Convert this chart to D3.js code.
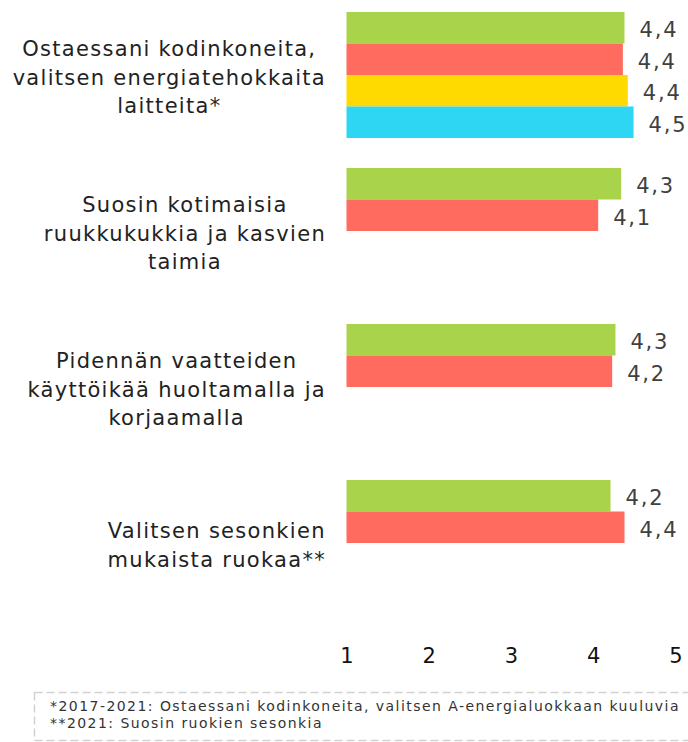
<!DOCTYPE html>
<html>
<head>
<meta charset="utf-8">
<script src="https://cdn.jsdelivr.net/npm/d3@7"></script>
<style>
  body { margin: 0; background: #fff; }
  text { font-family: "DejaVu Sans", sans-serif; }
</style>
</head>
<body>
<div id="chart"></div>
<script>
var svgWidth = 688;
var svgHeight = 742;

// categories (one label line per array entry)
var categories = [
    ["Ostaessani kodinkoneita,", "valitsen energiatehokkaita", "laitteita*"],
    ["Suosin kotimaisia", "ruukkukukkia ja kasvien", "taimia"],
    ["Pidennän vaatteiden", "käyttöikää huoltamalla ja", "korjaamalla"],
    ["Valitsen sesonkien", "mukaista ruokaa**"]
];
var series = ["s1", "s2", "s3", "s4"];
var seriesColors = ["#a9d34b", "#ff6b5f", "#ffda00", "#2fd6f4"];
// values per series, same order as categories (null = no bar)
var values_s1 = [4.38, 4.34, 4.27, 4.21];
var values_s2 = [4.36, 4.06, 4.23, 4.38];
var values_s3 = [4.42, null, null, null];
var values_s4 = [4.49, null, null, null];
var tickValues = [1, 2, 3, 4, 5];
var footnotes = [
    "*2017-2021: Ostaessani kodinkoneita, valitsen A-energialuokkaan kuuluvia",
    "**2021: Suosin ruokien sesonkia"
];

var allValues = [values_s1, values_s2, values_s3, values_s4];

var svg = d3.select("#chart")
    .append("svg")
    .attr("width", svgWidth)
    .attr("height", svgHeight);

// scales
var xScale = d3.scaleLinear()
    .domain([1, 5])
    .range([346.5, 675.5]);

var yScale = d3.scaleBand()
    .domain(d3.range(categories.length))
    .range([12, 606])
    .paddingInner(30 / 156)
    .paddingOuter(0);

var ySub = d3.scaleBand()
    .domain(series)
    .range([0, yScale.bandwidth()]);

// bars + value labels
var groups = svg.selectAll("g.group")
    .data(categories)
    .enter()
    .append("g")
    .attr("class", "group")
    .attr("transform", (d, i) => `translate(0, ${yScale(i)})`);

groups.each(function(cat, i) {
    var g = d3.select(this);
    var rows = series.map((s, k) => ({ key: s, color: seriesColors[k], value: allValues[k][i] }))
        .filter(d => d.value != null);

    g.selectAll("rect")
        .data(rows)
        .enter()
        .append("rect")
        .attr("x", xScale(1))
        .attr("y", d => ySub(d.key))
        .attr("width", d => xScale(d.value) - xScale(1))
        .attr("height", ySub.bandwidth())
        .attr("fill", d => d.color);

    g.selectAll("text.value")
        .data(rows)
        .enter()
        .append("text")
        .attr("class", "value")
        .attr("x", d => xScale(d.value) + 15)
        .attr("y", d => ySub(d.key) + ySub.bandwidth() / 2 + 9.5)
        .style("font-size", "21px")
        .style("letter-spacing", "1.8px")
        .style("fill", "#404040")
        .text(d => d3.format(".1f")(d.value).replace(".", ","));

    // category label: lines centred inside a right-aligned block
    var label = g.append("text")
        .attr("class", "cat")
        .style("font-size", "21px")
        .style("letter-spacing", "1.3px")
        .style("fill", "#222")
        .style("text-anchor", "middle");
    var n = cat.length;
    var mid = yScale.bandwidth() / 2 + 9.5;
    cat.forEach(function(line, j) {
        label.append("tspan")
            .attr("y", mid + (j - (n - 1) / 2) * 28.5)
            .text(line);
    });
    var maxW = d3.max(label.selectAll("tspan").nodes(), t => t.getComputedTextLength());
    label.selectAll("tspan").attr("x", 326 - maxW / 2);
});

// x axis (labels only)
var bottomAxis = d3.axisBottom(xScale)
    .tickValues(tickValues)
    .tickSize(0)
    .tickPadding(0)
    .tickFormat(d3.format("d"));

var xAxis = svg.append("g")
    .attr("transform", "translate(0, 646)")
    .call(bottomAxis);
xAxis.select(".domain").remove();
xAxis.selectAll("text")
    .attr("dy", "0.8em")
    .style("font-size", "21px")
    .style("font-family", "DejaVu Sans, sans-serif")
    .style("fill", "#111");

// footnote box
svg.append("rect")
    .attr("x", 34.5)
    .attr("y", 692.5)
    .attr("width", 700)
    .attr("height", 48)
    .attr("fill", "none")
    .attr("stroke", "#d2d2d2")
    .attr("stroke-width", 1.5)
    .attr("stroke-dasharray", "8,4");

svg.selectAll("text.foot")
    .data(footnotes)
    .enter()
    .append("text")
    .attr("class", "foot")
    .attr("x", 50)
    .attr("y", (d, i) => 711 + i * 17)
    .style("font-size", "14px")
    .style("letter-spacing", "1.45px")
    .style("fill", "#333")
    .text(d => d);
</script>
</body>
</html>
